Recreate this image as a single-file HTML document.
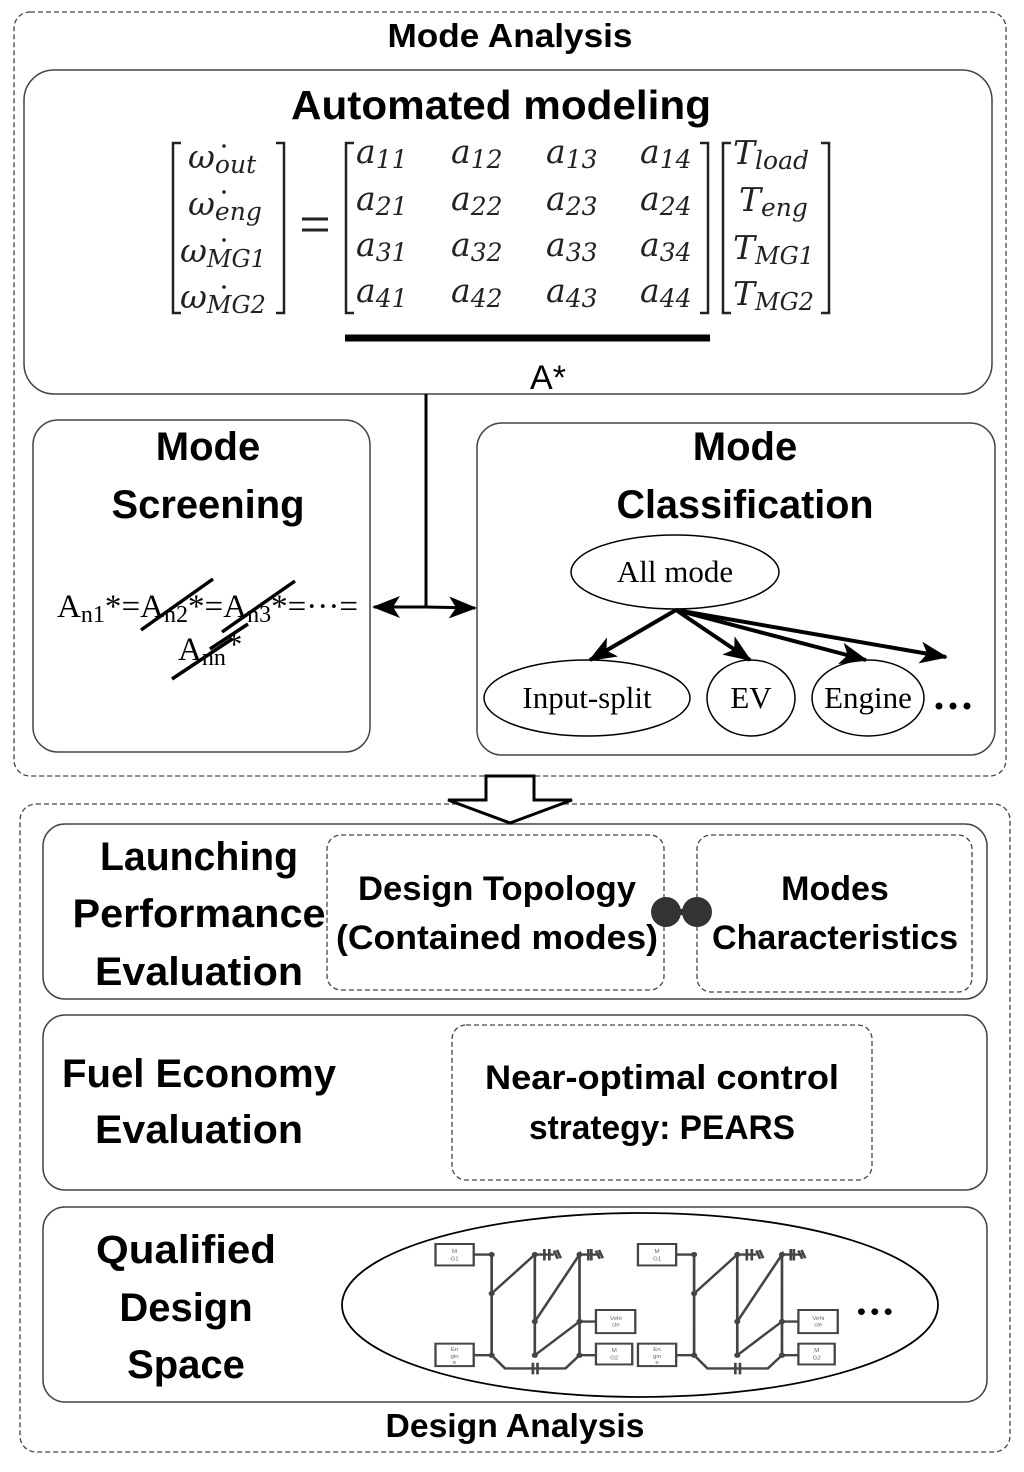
<!DOCTYPE html>
<html><head><style>html,body{margin:0;padding:0;background:#fff}svg{display:block}</style></head><body>
<svg width="1024" height="1472" viewBox="0 0 1024 1472" xmlns="http://www.w3.org/2000/svg">
<defs>
<marker id="ah2" markerWidth="28" markerHeight="22" refX="26" refY="11" orient="auto" markerUnits="userSpaceOnUse"><path d="M0,0 L28,11 L0,22 L7,11 Z" fill="#000"/></marker>
</defs>
<g fill="none" stroke="#444" stroke-width="1.3" stroke-dasharray="5,3">
<rect x="14" y="12" width="992" height="764" rx="16"/>
<rect x="20" y="804" width="990" height="648" rx="16"/>
<rect x="327" y="835" width="337" height="155" rx="14"/>
<rect x="697" y="835" width="275" height="157" rx="14"/>
<rect x="452" y="1025" width="420" height="155" rx="14"/>
</g>
<g fill="none" stroke="#444" stroke-width="1.5">
<rect x="24" y="70" width="968" height="324" rx="30"/>
<rect x="33" y="420" width="337" height="332" rx="25"/>
<rect x="477" y="423" width="518" height="332" rx="25"/>
<rect x="43" y="824" width="944" height="175" rx="22"/>
<rect x="43" y="1015" width="944" height="175" rx="22"/>
<rect x="43" y="1207" width="944" height="195" rx="22"/>
</g>
<g font-family="Liberation Sans, sans-serif" font-weight="bold" text-anchor="middle" fill="#000">
<text x="510" y="47" font-size="33" textLength="245" lengthAdjust="spacingAndGlyphs">Mode Analysis</text>
<text x="501" y="119" font-size="41" textLength="420" lengthAdjust="spacingAndGlyphs">Automated modeling</text>
<text x="208" y="460" font-size="40">Mode</text>
<text x="208" y="518" font-size="40" textLength="193" lengthAdjust="spacingAndGlyphs">Screening</text>
<text x="745" y="460" font-size="40">Mode</text>
<text x="745" y="518" font-size="40" textLength="257" lengthAdjust="spacingAndGlyphs">Classification</text>
<text x="199" y="870" font-size="40" textLength="198" lengthAdjust="spacingAndGlyphs">Launching</text>
<text x="199" y="927" font-size="40" textLength="253" lengthAdjust="spacingAndGlyphs">Performance</text>
<text x="199" y="985" font-size="40" textLength="208" lengthAdjust="spacingAndGlyphs">Evaluation</text>
<text x="497" y="900" font-size="34" textLength="278" lengthAdjust="spacingAndGlyphs">Design Topology</text>
<text x="497" y="949" font-size="34" textLength="322" lengthAdjust="spacingAndGlyphs">(Contained modes)</text>
<text x="835" y="900" font-size="34">Modes</text>
<text x="835" y="949" font-size="34" textLength="246" lengthAdjust="spacingAndGlyphs">Characteristics</text>
<text x="199" y="1087" font-size="40" textLength="274" lengthAdjust="spacingAndGlyphs">Fuel Economy</text>
<text x="199" y="1143" font-size="40" textLength="208" lengthAdjust="spacingAndGlyphs">Evaluation</text>
<text x="662" y="1089" font-size="34" textLength="354" lengthAdjust="spacingAndGlyphs">Near-optimal control</text>
<text x="662" y="1139" font-size="34" textLength="266" lengthAdjust="spacingAndGlyphs">strategy: PEARS</text>
<text x="186" y="1263" font-size="40" textLength="180" lengthAdjust="spacingAndGlyphs">Qualified</text>
<text x="186" y="1321" font-size="40">Design</text>
<text x="186" y="1378" font-size="40">Space</text>
<text x="515" y="1437" font-size="33" textLength="259" lengthAdjust="spacingAndGlyphs">Design Analysis</text>
</g>
<g fill="none" stroke="#222" stroke-width="2.5">
<path d="M181,143 H173 V313 H181"/><path d="M276,143 H284 V313 H276"/>
<path d="M354,143 H346 V313 H354"/><path d="M700,143 H708 V313 H700"/>
<path d="M731,143 H723 V313 H731"/><path d="M821,143 H829 V313 H821"/>
</g>
<g font-family="DejaVu Serif, Liberation Serif, serif" font-style="italic" fill="#222" font-size="33">
<text x="188" y="168">ω<tspan font-size="25" dy="5">out</tspan></text>
<text x="188" y="215">ω<tspan font-size="25" dy="5">eng</tspan></text>
<text x="180" y="262">ω<tspan font-size="24" dy="5">MG1</tspan></text>
<text x="180" y="308">ω<tspan font-size="24" dy="5">MG2</tspan></text>
<text x="733" y="164">T<tspan font-size="25" dy="5">load</tspan></text>
<text x="739" y="211">T<tspan font-size="25" dy="5">eng</tspan></text>
<text x="733" y="259">T<tspan font-size="24" dy="5">MG1</tspan></text>
<text x="733" y="305">T<tspan font-size="24" dy="5">MG2</tspan></text>
<text x="356" y="163">a<tspan font-size="25" dy="5">11</tspan></text><text x="451" y="163">a<tspan font-size="25" dy="5">12</tspan></text><text x="546" y="163">a<tspan font-size="25" dy="5">13</tspan></text><text x="640" y="163">a<tspan font-size="25" dy="5">14</tspan></text>
<text x="356" y="210">a<tspan font-size="25" dy="5">21</tspan></text><text x="451" y="210">a<tspan font-size="25" dy="5">22</tspan></text><text x="546" y="210">a<tspan font-size="25" dy="5">23</tspan></text><text x="640" y="210">a<tspan font-size="25" dy="5">24</tspan></text>
<text x="356" y="256">a<tspan font-size="25" dy="5">31</tspan></text><text x="451" y="256">a<tspan font-size="25" dy="5">32</tspan></text><text x="546" y="256">a<tspan font-size="25" dy="5">33</tspan></text><text x="640" y="256">a<tspan font-size="25" dy="5">34</tspan></text>
<text x="356" y="302">a<tspan font-size="25" dy="5">41</tspan></text><text x="451" y="302">a<tspan font-size="25" dy="5">42</tspan></text><text x="546" y="302">a<tspan font-size="25" dy="5">43</tspan></text><text x="640" y="302">a<tspan font-size="25" dy="5">44</tspan></text>
</g>
<g fill="#222"><circle cx="224" cy="146" r="1.8"/><circle cx="224" cy="192" r="1.8"/><circle cx="224" cy="240" r="1.8"/><circle cx="224" cy="287" r="1.8"/></g>
<g stroke="#222" stroke-width="3"><line x1="302" y1="219" x2="328" y2="219"/><line x1="302" y1="230" x2="328" y2="230"/></g>
<line x1="345" y1="338" x2="710" y2="338" stroke="#000" stroke-width="7"/>
<text x="548" y="389" font-family="Liberation Sans, sans-serif" font-size="34" text-anchor="middle">A*</text>
<line x1="426" y1="394" x2="426" y2="607" stroke="#000" stroke-width="3"/>
<line x1="426" y1="607" x2="374" y2="607" stroke="#000" stroke-width="3" marker-end="url(#ah2)"/>
<line x1="426" y1="607" x2="475" y2="608" stroke="#000" stroke-width="3" marker-end="url(#ah2)"/>
<g font-family="Liberation Serif, serif" font-size="33" fill="#000">
<text x="57" y="617" textLength="301" lengthAdjust="spacingAndGlyphs">A<tspan font-size="24" dy="5">n1</tspan><tspan dy="-5">*=A</tspan><tspan font-size="24" dy="5">n2</tspan><tspan dy="-5">*=A</tspan><tspan font-size="24" dy="5">n3</tspan><tspan dy="-5">*=···=</tspan></text>
<text x="178" y="660">A<tspan font-size="24" dy="5">nn</tspan><tspan dy="-10">*</tspan></text>
</g>
<g stroke="#000" stroke-width="3.5">
<line x1="141" y1="630" x2="213" y2="579"/><line x1="222" y1="632" x2="295" y2="581"/>
<line x1="210" y1="649" x2="248" y2="624"/><line x1="172" y1="679" x2="232" y2="639"/>
</g>
<g fill="#fff" stroke="#000" stroke-width="1.5">
<ellipse cx="675" cy="572" rx="104" ry="37"/>
<ellipse cx="587" cy="698" rx="103" ry="38"/>
<ellipse cx="751" cy="698" rx="44" ry="38"/>
<ellipse cx="868" cy="698" rx="56" ry="38"/>
</g>
<g font-family="Liberation Serif, serif" font-size="31" text-anchor="middle">
<text x="675" y="582">All mode</text>
<text x="587" y="708">Input-split</text>
<text x="751" y="708">EV</text>
<text x="868" y="708">Engine</text>
</g>
<g fill="#000"><circle cx="939" cy="706" r="3.5"/><circle cx="953" cy="706" r="3.5"/><circle cx="967" cy="706" r="3.5"/></g>
<g stroke="#000" stroke-width="4">
<line x1="676" y1="610" x2="590" y2="660" marker-end="url(#ah2)"/>
<line x1="676" y1="610" x2="750" y2="660" marker-end="url(#ah2)"/>
<line x1="676" y1="610" x2="866" y2="660" marker-end="url(#ah2)"/>
<line x1="676" y1="610" x2="946" y2="657" marker-end="url(#ah2)"/>
</g>
<path d="M486,776 H534 V800 H572 L510,823 L448,800 H486 Z" fill="#fff" stroke="#000" stroke-width="3"/>
<line x1="668" y1="912" x2="695" y2="912" stroke="#333" stroke-width="6"/>
<circle cx="666" cy="912" r="15" fill="#333"/><circle cx="697" cy="912" r="15" fill="#333"/>
<ellipse cx="640" cy="1305" rx="298" ry="92" fill="none" stroke="#000" stroke-width="1.8"/>
<g transform="translate(340,1211) scale(0.382,0.33)">
<g id="sch" fill="none" stroke="#444" stroke-width="7">
<rect x="250" y="100" width="100" height="65" stroke-width="6"/>
<rect x="250" y="402" width="100" height="68" stroke-width="6"/>
<rect x="670" y="300" width="103" height="70" stroke-width="6"/>
<rect x="670" y="402" width="95" height="63" stroke-width="6"/>
<path d="M350,132 H397 V437 M397,250 L510,132 V437 M510,335 L627,132 V437 M510,437 L627,335 H670 M627,437 H670 M350,437 H397 L432,477 H590 L627,437"/>
<path d="M510,132 H560 M535,115 V150 M548,115 V150 M560,120 L570,145 M568,118 L578,143 M627,132 H680 M650,115 V150 M658,115 V150 M670,120 L680,145 M678,118 L688,143 M505,460 V495 M517,460 V495"/>
<g fill="#444" stroke="none"><circle cx="397" cy="132" r="8"/><circle cx="397" cy="250" r="8"/><circle cx="397" cy="437" r="8"/><circle cx="510" cy="132" r="8"/><circle cx="510" cy="335" r="8"/><circle cx="510" cy="437" r="8"/><circle cx="627" cy="132" r="8"/><circle cx="627" cy="335" r="8"/><circle cx="627" cy="437" r="8"/></g>
<g fill="#666" stroke="none" font-family="Liberation Sans, sans-serif" font-size="16" text-anchor="middle"><text x="300" y="128">M</text><text x="300" y="150">G1</text><text x="300" y="425">En</text><text x="300" y="445">gin</text><text x="300" y="463">e</text><text x="722" y="330">Vehi</text><text x="722" y="350">cle</text><text x="718" y="428">M</text><text x="718" y="450">G2</text></g>
</g>
<use href="#sch" transform="translate(530,0)"/>
<g fill="#000"><ellipse cx="1365" cy="305" rx="9" ry="10"/><ellipse cx="1400" cy="305" rx="9" ry="10"/><ellipse cx="1435" cy="305" rx="9" ry="10"/></g>
</g>
</svg>
</body></html>
